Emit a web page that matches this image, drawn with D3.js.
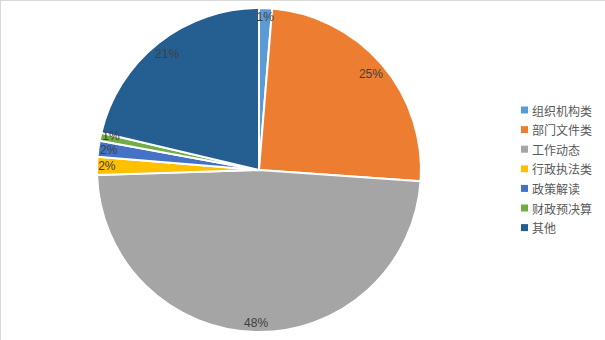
<!DOCTYPE html>
<html><head><meta charset="utf-8">
<script src="https://cdn.jsdelivr.net/npm/d3@7"></script>
<style>html,body{margin:0;padding:0;background:#fff;}svg{display:block;}</style>
</head><body>
<svg id="c" width="605" height="340"></svg>
<script>
const categories = ["组织机构类","部门文件类","工作动态","行政执法类","政策解读","财政预决算","其他"];
const values = [1.3, 24.8, 48.4, 1.8, 1.6, 0.8, 21.3];
const labels = ["1%","25%","48%","2%","2%","1%","21%"];
const colors = ["#5B9BD5","#ED7D31","#A5A5A5","#FFC000","#4472C4","#70AD47","#255E91"];

const svg = d3.select("#c");
svg.append("rect").attr("x",0.5).attr("y",0.5).attr("width",700).attr("height",400)
  .attr("fill","#fff").attr("stroke","#d9d9d9");

const cx = 259, cy = 170, R = 162;
const g = svg.append("g").attr("transform",`translate(${cx},${cy})`);
const pie = d3.pie().sort(null).value(d=>d)(values);
const arc = d3.arc().innerRadius(0).outerRadius(R);
g.selectAll("path").data(pie).join("path")
  .attr("d",arc).attr("fill",(d,i)=>colors[i])
  .attr("stroke","#fff").attr("stroke-width",2).attr("stroke-linejoin","round");

// label positions: inside end, with simple vertical collision avoidance
const pos = pie.map((d,i)=>{
  const a = (d.startAngle+d.endAngle)/2;
  const dx = Math.sin(a), dy = -Math.cos(a);
  const w = labels[i].length*6.6, h = 12;
  const ext = Math.abs(dx)*w/2 + Math.abs(dy)*h/2;
  const r = R - 3 - ext;
  return {x: dx*r, y: dy*r, left: dx < 0};
});
for (let i = 1; i < pos.length; i++) {
  const p = pos[i-1], q = pos[i];
  if (p.left && q.left && Math.abs(p.x - q.x) < 20 && q.y > p.y - 14) q.y = p.y - 14;
}

g.selectAll("text.lbl").data(pie).join("text").attr("class","lbl")
  .attr("x",(d,i)=>pos[i].x).attr("y",(d,i)=>pos[i].y)
  .attr("text-anchor","middle").attr("dominant-baseline","central")
  .attr("font-family","'Liberation Sans Narrow','Liberation Sans',Arial,sans-serif")
  .attr("font-size",12).attr("fill","#404040")
  .text((d,i)=>labels[i]);

const leg = svg.append("g").attr("transform","translate(521,110)");
const items = leg.selectAll("g").data(categories).join("g")
  .attr("transform",(d,i)=>`translate(0,${i*19.6})`);
items.append("rect").attr("x",0).attr("y",-3.5).attr("width",7).attr("height",7)
  .attr("fill",(d,i)=>colors[i]);
items.append("text").attr("x",11).attr("y",0).attr("dominant-baseline","central")
  .attr("font-family","'Noto Sans CJK SC',sans-serif").attr("font-size",12)
  .attr("fill","#595959").text(d=>d);
</script>
</body></html>
